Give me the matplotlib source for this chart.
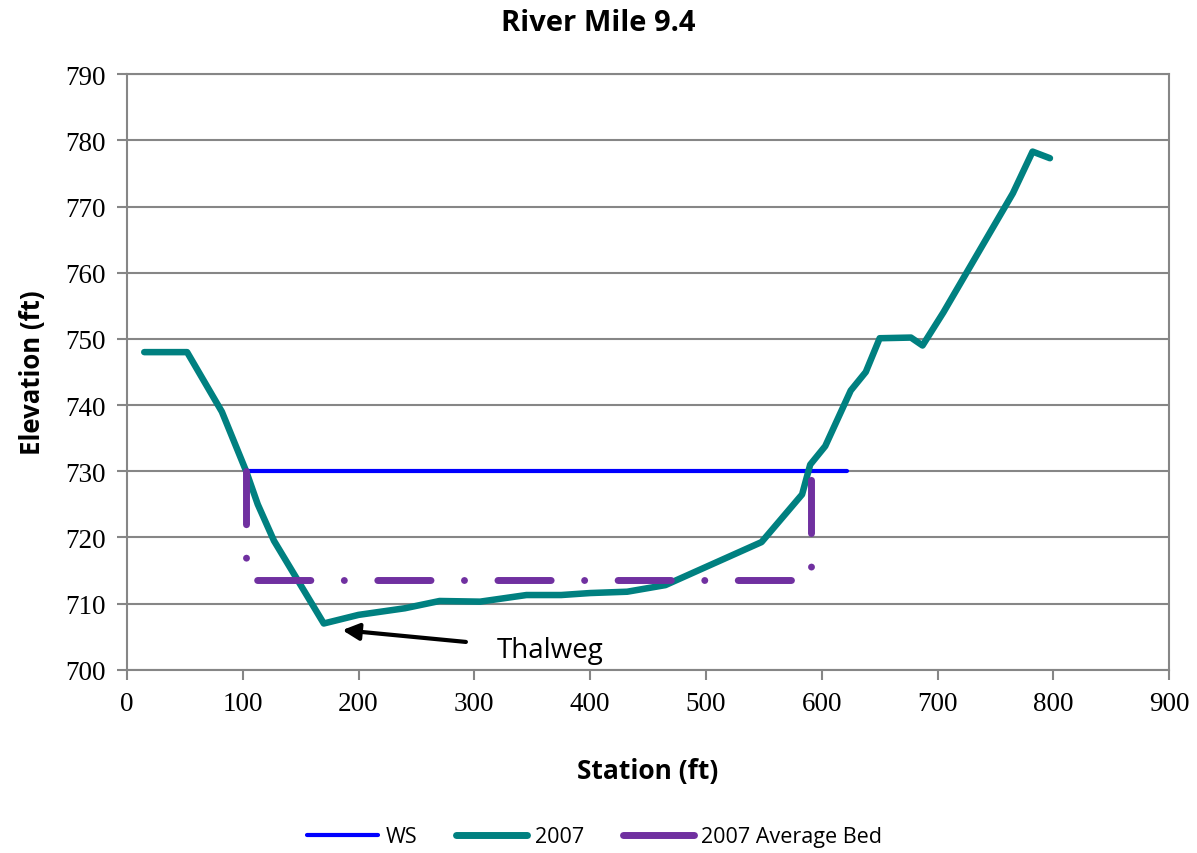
import matplotlib.pyplot as plt
from matplotlib.lines import Line2D

# data
station_2007 = [15, 52, 82, 103, 113, 127, 170, 200, 240, 270, 305, 345, 375, 400, 432, 465,
                548, 583, 590, 603, 625, 638, 650, 677, 687, 705, 765, 782, 797]
elev_2007 = [748.0, 748.0, 739.0, 730.0, 725.0, 719.5, 707.0, 708.3, 709.3, 710.4, 710.3, 711.3,
             711.3, 711.6, 711.8, 712.8, 719.3, 726.5, 731.0, 733.8, 742.2, 745.0, 750.1, 750.2,
             749.0, 754.0, 772.0, 778.3, 777.3]
ws_station = [103, 622]
ws_elev = [730.0, 730.0]
bed_station = [103, 103, 591, 591]
bed_elev = [730.0, 713.5, 713.5, 730.0]
xticks = list(range(0, 901, 100))
yticks = list(range(700, 791, 10))

plt.rcParams['lines.scale_dashes'] = False

fig = plt.figure(figsize=(11.97, 8.54), dpi=100)
ax = fig.add_axes([0.106, 0.2145, 0.8708, 0.6975])

grey = '#868686'
ax.set_xlim(0, 900)
ax.set_ylim(700, 790)
ax.set_xticks(xticks)
ax.set_yticks(yticks)
ax.grid(axis='y', color=grey, linewidth=1.5)
ax.set_axisbelow(True)
for s in ax.spines.values():
    s.set_color(grey)
    s.set_linewidth(1.5)
ax.tick_params(color=grey, width=1.5, length=7, direction='out', pad=8)
for lab in ax.get_xticklabels() + ax.get_yticklabels():
    lab.set_fontfamily('Liberation Serif')
    lab.set_fontsize(19.5)

ax.plot(ws_station, ws_elev, color='#0000FF', lw=3, solid_capstyle='round', label='WS', zorder=3)
ax.plot(station_2007, elev_2007, color='#008080', lw=4.7, solid_capstyle='round',
        solid_joinstyle='round', label='2007', zorder=4)
bed, = ax.plot(bed_station, bed_elev, color='#7030A0', lw=5, dash_capstyle='round',
               label='2007 Average Bed', zorder=5)
bed.set_dashes((38.3, 24.1, 0.01, 24.1))

ax.annotate('Thalweg', xy=(186, 706.0), xytext=(319, 703.0), fontsize=20,
            fontfamily='Open Sans', va='center', ha='left',
            arrowprops=dict(arrowstyle='-|>', color='black', lw=3, mutation_scale=25,
                            shrinkA=20, shrinkB=0))

ax.set_xlabel('Station (ft)', fontsize=19, fontweight='bold', fontfamily='Open Sans', labelpad=30)
ax.set_ylabel('Elevation (ft)', fontsize=18.5, fontweight='bold', fontfamily='Open Sans', labelpad=14)
fig.suptitle('River Mile 9.4', fontsize=21, fontweight='bold', fontfamily='Open Sans', y=0.99)

handles = [Line2D([], [], color='#0000FF', lw=3, solid_capstyle='round'),
           Line2D([], [], color='#008080', lw=5, solid_capstyle='round'),
           Line2D([], [], color='#7030A0', lw=5, solid_capstyle='round')]
fig.legend(handles, ['WS', '2007', '2007 Average Bed'], loc='center', bbox_to_anchor=(0.497, 0.019),
           ncol=3, frameon=False, prop={'family': 'Open Sans', 'size': 15.5}, handlelength=3.3,
           columnspacing=1.8, handletextpad=0.35)

fig.savefig('out.png', dpi=100)
